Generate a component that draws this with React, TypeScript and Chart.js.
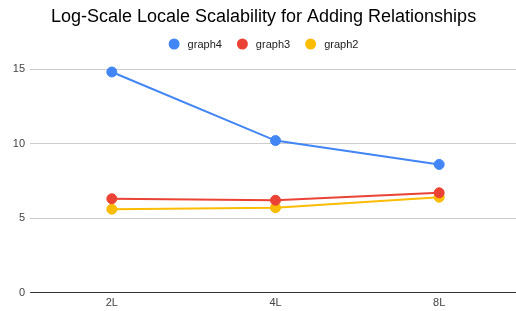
import React, { useEffect, useRef } from "react";
import { Chart, registerables } from "chart.js";

Chart.register(...registerables);

const categories = ["2L", "4L", "8L"];
const graph4 = [14.8, 10.2, 8.6];
const graph3 = [6.3, 6.2, 6.7];
const graph2 = [5.6, 5.7, 6.4];
const yTicks = [0, 5, 10, 15];

const W = 527;
const H = 311;
const FONT = "Liberation Sans, Arial, sans-serif";

const legendPlugin = {
  id: "customLegend",
  afterDraw(chart: any) {
    const ctx = chart.ctx;
    ctx.save();
    ctx.font = `11px ${FONT}`;
    ctx.textBaseline = "middle";
    ctx.textAlign = "left";
    const r = 5.5;
    const gap = 8;
    const space = 15;
    const items = chart.data.datasets.map((d: any) => ({
      label: d.label,
      color: d.borderColor,
      w: ctx.measureText(d.label).width,
    }));
    const total =
      items.reduce((a: number, it: any) => a + 2 * r + gap + it.w, 0) + space * (items.length - 1);
    let x = W / 2 - total / 2;
    const y = 44;
    for (const it of items) {
      ctx.beginPath();
      ctx.fillStyle = it.color;
      ctx.arc(x + r, y, r, 0, Math.PI * 2);
      ctx.fill();
      ctx.fillStyle = "#222";
      ctx.fillText(it.label, x + 2 * r + gap, y + 0.5);
      x += 2 * r + gap + it.w + space;
    }
    ctx.restore();
  },
};

export default function App() {
  const ref = useRef<HTMLCanvasElement | null>(null);
  useEffect(() => {
    document.body.style.margin = "0";
    document.body.style.overflow = "hidden";
    const ctx = ref.current!;
    const mk = (label: string, data: number[], color: string) => ({
      label,
      data,
      borderColor: color,
      backgroundColor: color,
      pointBackgroundColor: color,
      pointBorderColor: color,
      pointRadius: 5,
      pointBorderWidth: 1,
      borderWidth: 2,
      tension: 0,
      clip: false as any,
    });
    const chart = new Chart(ctx, {
      type: "line",
      data: {
        labels: categories,
        datasets: [
          mk("graph4", graph4, "#4285F4"),
          mk("graph3", graph3, "#EA4335"),
          mk("graph2", graph2, "#FBBC04"),
        ],
      },
      plugins: [legendPlugin],
      options: {
        animation: false,
        responsive: false,
        maintainAspectRatio: false,
        layout: { padding: { left: 5, right: 5, top: 0, bottom: 0 } },
        plugins: {
          title: {
            display: true,
            text: "Log-Scale Locale Scalability for Adding Relationships",
            color: "#000",
            font: { family: FONT, size: 18, weight: "normal" },
            padding: { top: 6, bottom: 41.4 },
          },
          legend: { display: false },
          tooltip: { enabled: false },
        },
        scales: {
          x: {
            offset: true,
            grid: { display: false, drawTicks: false },
            border: { display: true, color: "#333", width: 1 },
            afterFit: (s: any) => {
              s.height = 18.3;
            },
            ticks: {
              color: "#444",
              padding: 4,
              font: { family: FONT, size: 11 },
            },
          },
          y: {
            min: 0,
            max: 15,
            afterBuildTicks: (s: any) => {
              s.ticks = yTicks.map((v) => ({ value: v }));
            },
            afterFit: (s: any) => {
              s.width = 25;
            },
            grid: {
              drawTicks: false,
              color: (c: any) => (c.tick && c.tick.value === 0 ? "#333" : "#ccc"),
            },
            border: { display: false },
            ticks: {
              color: "#444",
              padding: 5,
              font: { family: FONT, size: 11 },
            },
          },
        },
      },
    });
    return () => chart.destroy();
  }, []);
  return (
    <div style={{ position: "fixed", left: 0, top: 0, width: 516, height: 311, overflow: "hidden", background: "#fff" }}>
      <canvas ref={ref} width={W} height={H} style={{ width: W, height: H, display: "block" }} />
    </div>
  );
}
